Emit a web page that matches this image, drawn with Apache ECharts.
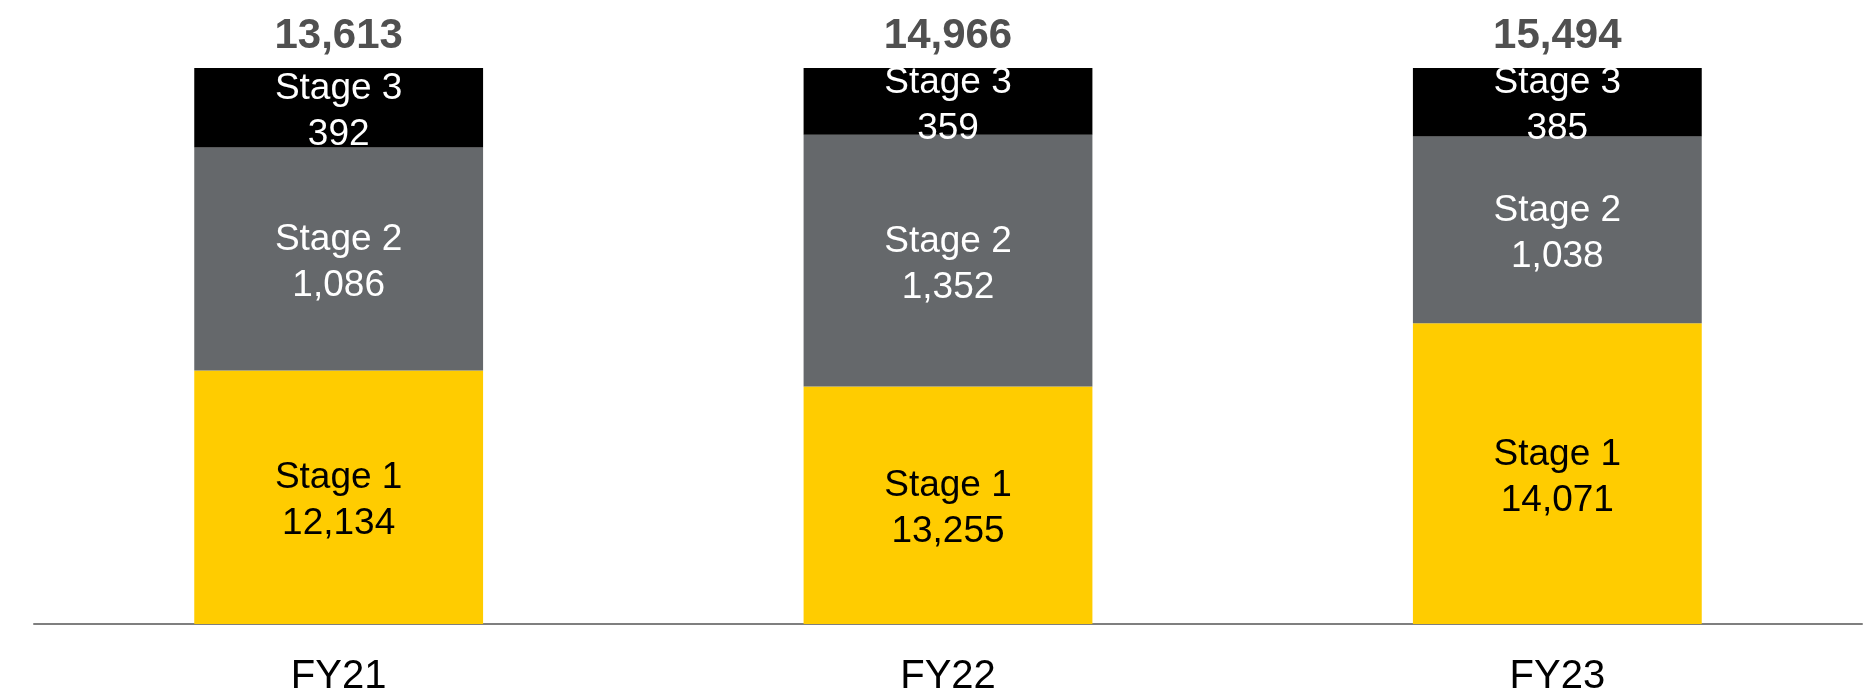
<!DOCTYPE html>
<html>
<head>
<meta charset="utf-8">
<script src="https://cdn.jsdelivr.net/npm/echarts@6/dist/echarts.min.js"></script>
<style>
	html, body { margin: 0; padding: 0; background: #fff; }
	#chart { width: 1872px; height: 697px; }
</style>
</head>
<body>
<div id="chart"></div>
<script>
// categories
var years = ['FY21', 'FY22', 'FY23'];

// reported values (shown in labels)
var stage1 = [12134, 13255, 14071];
var stage2 = [1086, 1352, 1038];
var stage3 = [392, 359, 385];
var totals = [13613, 14966, 15494];

// the original draws every bar at the same height, so the segments are
// drawn with the share of the bar they take in the picture (in %)
var stage1Shown = [45.6, 42.7, 54.1];
var stage2Shown = [40.1, 45.3, 33.6];
var stage3Shown = [14.3, 12.0, 12.3];

var FONT = '"Liberation Sans", Arial, sans-serif';

function fmt(v) {
	return v.toLocaleString('en-US');
}

function stageSeries(name, shown, real, color, textColor) {
	return {
		name: name,
		type: 'bar',
		stack: 'total',
		barWidth: '47.4%',
		itemStyle: { color: color },
		data: shown,
		label: {
			show: true,
			position: 'inside',
			offset: [0, 4],
			color: textColor,
			fontFamily: FONT,
			fontSize: 37,
			lineHeight: 46,
			formatter: function(p) {
				return name + '\n' + fmt(real[p.dataIndex]);
			}
		}
	};
}

var myChart = echarts.init(document.getElementById('chart'));

var option = {
	animation: false,
	backgroundColor: '#ffffff',
	grid: { left: 34, right: 10, top: 68, bottom: 73 },
	xAxis: {
		type: 'category',
		data: years,
		axisLine: { lineStyle: { color: '#7f7f7f', width: 2 } },
		axisTick: { show: false },
		axisLabel: {
			color: '#000000',
			fontFamily: FONT,
			fontSize: 40,
			margin: 33
		}
	},
	yAxis: {
		type: 'value',
		min: 0,
		max: 100,
		show: false,
		splitLine: { show: false }
	},
	series: [
		stageSeries('Stage 1', stage1Shown, stage1, '#ffcc00', '#000000'),
		stageSeries('Stage 2', stage2Shown, stage2, '#65686b', '#ffffff'),
		stageSeries('Stage 3', stage3Shown, stage3, '#000000', '#ffffff'),
		{
			name: 'Total',
			type: 'bar',
			stack: 'total',
			data: [0, 0, 0],
			itemStyle: { color: 'transparent' },
			label: {
				show: true,
				position: 'top',
				distance: 11,
				color: '#505050',
				fontFamily: FONT,
				fontSize: 42,
				fontWeight: 'bold',
				formatter: function(p) {
					return fmt(totals[p.dataIndex]);
				}
			}
		}
	]
};

myChart.setOption(option);
</script>
</body>
</html>
